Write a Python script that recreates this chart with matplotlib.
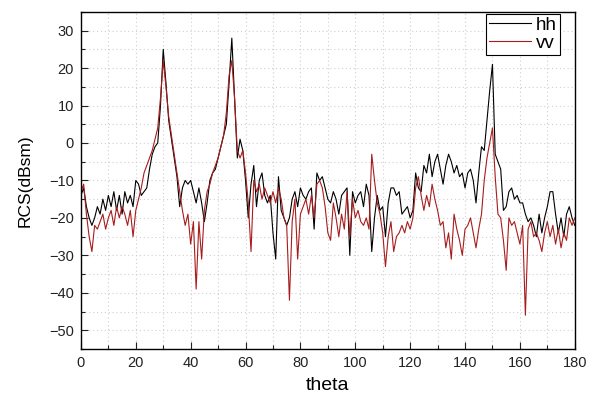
import numpy as np
import matplotlib
matplotlib.use("Agg")
import matplotlib.pyplot as plt
from matplotlib.ticker import MultipleLocator

# ── Data (1 degree steps) ────────────────────────────────────────────────────
theta = np.arange(0, 181)

hh = [
    -14, -12, -17, -20, -22, -20, -17, -19, -15, -18,
    -14, -17, -13, -18, -14, -19, -13, -16, -14, -17,
    -10, -11, -14, -13, -12, -7, -3, -1, 0, 10,
    25, 16, 6, 1, -4, -9, -17, -12, -10, -11,
    -10, -13, -16, -12, -16, -21, -16, -10, -8, -7,
    -4, -1, 2, 5, 16, 28, 12, -4, 1, -2,
    -10, -20, -11, -6, -17, -10, -8, -14, -16, -14,
    -24, -31, -9, -18, -20, -22, -20, -15, -13, -17,
    -12, -14, -15, -13, -12, -23, -8, -10, -9, -12,
    -15, -16, -13, -15, -19, -14, -13, -12, -30, -13,
    -16, -14, -13, -17, -11, -14, -29, -20, -14, -18,
    -17, -25, -16, -12, -12, -14, -13, -19, -18, -17,
    -20, -18, -8, -12, -13, -6, -8, -3, -9, -5,
    -3, -7, -11, -6, -3, -5, -8, -6, -9, -8,
    -12, -8, -7, -10, -16, -8, -1, -2, 6, 14,
    21, -3, -5, -7, -18, -17, -13, -12, -15, -14,
    -16, -16, -19, -21, -20, -22, -25, -19, -24, -20,
    -17, -13, -13, -19, -24, -20, -25, -19, -17, -20,
    -22,
]

vv = [
    -13, -11, -19, -25, -29, -22, -23, -21, -19, -23,
    -20, -18, -22, -17, -20, -17, -19, -22, -18, -25,
    -18, -15, -12, -8, -6, -4, -2, 1, 4, 12,
    22, 15, 7, 2, -3, -8, -13, -18, -22, -19,
    -27, -21, -39, -21, -31, -18, -13, -11, -8, -6,
    -4, -1, 2, 8, 18, 22, 12, -2, -4, -2,
    -8, -16, -29, -10, -13, -11, -15, -12, -14, -16,
    -13, -16, -12, -15, -20, -22, -42, -21, -15, -31,
    -19, -17, -15, -19, -14, -20, -11, -10, -12, -17,
    -24, -26, -16, -20, -25, -19, -23, -13, -25, -15,
    -20, -18, -21, -22, -20, -23, -3, -10, -16, -19,
    -24, -33, -25, -21, -29, -25, -24, -22, -24, -21,
    -23, -20, -12, -9, -14, -18, -14, -17, -11, -15,
    -18, -22, -21, -28, -24, -31, -19, -23, -26, -30,
    -23, -22, -20, -24, -28, -23, -19, -10, -4, 0,
    4, -9, -19, -20, -26, -34, -20, -22, -21, -24,
    -27, -22, -46, -23, -21, -25, -24, -26, -29, -24,
    -21, -25, -22, -27, -23, -28, -24, -26, -20, -22,
    -20,
]

# ── Plot ─────────────────────────────────────────────────────────────────────
plt.rcParams["font.family"] = ["Liberation Sans", "DejaVu Sans"]

fig = plt.figure(figsize=(5.95, 3.97), dpi=100, facecolor="white")
ax = fig.add_axes([0.136, 0.121, 0.830, 0.849])

ax.plot(theta, hh, color="#000000", linewidth=0.8, label="hh")
ax.plot(theta, vv, color="#a81c1c", linewidth=0.8, label="vv")

ax.set_xlim(0, 180)
ax.set_ylim(-55, 35)
ax.xaxis.set_major_locator(MultipleLocator(20))
ax.xaxis.set_minor_locator(MultipleLocator(10))
ax.yaxis.set_major_locator(MultipleLocator(10))
ax.yaxis.set_minor_locator(MultipleLocator(5))

ax.tick_params(which="both", direction="in", top=False, right=False,
               labelsize=10.5, colors="#222222")
ax.tick_params(which="major", length=5, width=0.8, pad=5)
ax.tick_params(which="minor", length=3, width=0.8)
ax.grid(which="both", color="#cfcfcf", linestyle=(0, (1, 2.5)), linewidth=0.8)
for spine in ax.spines.values():
    spine.set_linewidth(1.0)

ax.set_xlabel("theta", fontsize=14, labelpad=5)
ax.set_ylabel("RCS(dBsm)", fontsize=12.5, labelpad=12)

leg = ax.legend(loc="upper right", bbox_to_anchor=(0.970, 0.994),
                fontsize=13.5, fancybox=False, framealpha=1,
                edgecolor="black", handlelength=2.2, borderpad=0.15,
                labelspacing=0.05, handletextpad=0.3, borderaxespad=0.0)
leg.get_frame().set_linewidth(0.8)

fig.savefig("out.png", dpi=100, facecolor="white")
